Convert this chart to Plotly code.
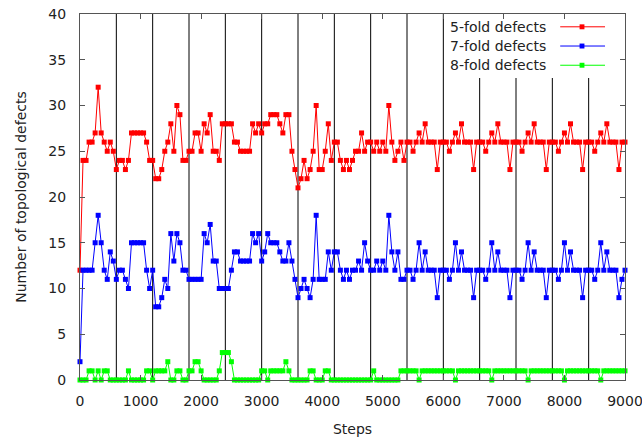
import plotly.graph_objects as go

# ---------------- data ----------------
steps = list(range(0, 9001, 50))

five_fold = [
    12, 24, 24, 26, 26, 27, 32, 27, 26, 25,
    26, 25, 23, 24, 24, 23, 24, 27, 27, 27,
    27, 27, 26, 24, 24, 22, 22, 23, 25, 26,
    28, 25, 30, 29, 24, 24, 25, 25, 27, 27,
    25, 28, 27, 29, 25, 25, 24, 28, 28, 28,
    28, 26, 26, 25, 25, 25, 25, 28, 27, 28,
    27, 28, 28, 29, 29, 29, 28, 27, 29, 29,
    25, 23, 21, 22, 24, 22, 23, 25, 30, 23,
    23, 25, 28, 24, 26, 26, 24, 23, 24, 23,
    24, 25, 25, 27, 25, 26, 26, 25, 26, 25,
    26, 25, 30, 26, 24, 25, 26, 24,
    26, 26, 25, 26, 27, 26, 28, 26, 26, 26, 23, 26,
    26, 26, 25, 26, 27, 26, 28, 26, 26, 26, 23, 26,
    26, 26, 25, 26, 27, 26, 28, 26, 26, 26, 23, 26,
    26, 26, 25, 26, 27, 26, 28, 26, 26, 26, 23, 26,
    26, 26, 25, 26, 27, 26, 28, 26, 26, 26, 23, 26,
    26, 26, 25, 26, 27, 26, 28, 26, 26, 26, 23, 26,
    26,
]

seven_fold = [
    2, 12, 12, 12, 12, 15, 18, 15, 12, 11,
    14, 13, 11, 12, 12, 11, 10, 15, 15, 15,
    15, 15, 12, 10, 12, 8, 8, 9, 11, 10,
    16, 13, 16, 15, 12, 12, 11, 11, 11, 11,
    11, 16, 15, 17, 13, 13, 10, 10, 10, 10,
    12, 14, 14, 13, 13, 13, 13, 16, 15, 16,
    13, 14, 16, 15, 15, 15, 14, 13, 13, 15,
    13, 11, 9, 10, 11, 10, 9, 11, 18, 11,
    11, 11, 14, 12, 14, 14, 12, 11, 12, 11,
    12, 12, 13, 12, 15, 13, 12, 12, 13, 12,
    13, 12, 18, 14, 12, 14, 11, 11,
    12, 12, 11, 12, 15, 12, 14, 12, 12, 12, 9, 12,
    12, 12, 11, 12, 15, 12, 14, 12, 12, 12, 9, 12,
    12, 12, 11, 12, 15, 12, 14, 12, 12, 12, 9, 12,
    12, 12, 11, 12, 15, 12, 14, 12, 12, 12, 9, 12,
    12, 12, 11, 12, 15, 12, 14, 12, 12, 12, 9, 12,
    12, 12, 11, 12, 15, 12, 14, 12, 12, 12, 9, 11,
    12,
]

eight_fold = [
    0, 0, 0, 1, 1, 0, 1, 0, 1, 1,
    0, 0, 0, 0, 0, 0, 1, 0, 0, 0,
    0, 0, 1, 1, 0, 1, 1, 1, 1, 2,
    0, 0, 1, 1, 0, 0, 1, 1, 2, 2,
    1, 0, 0, 0, 0, 0, 1, 3, 3, 3,
    2, 0, 0, 0, 0, 0, 0, 0, 0, 0,
    1, 1, 0, 1, 1, 1, 1, 1, 2, 1,
    0, 0, 0, 0, 0, 0, 1, 1, 0, 0,
    0, 1, 1, 0, 0, 0, 0, 0, 0, 0,
    0, 0, 0, 0, 0, 0, 0, 1, 0, 0,
    0, 0, 0, 0, 0, 0, 1, 1,
    1, 1, 1, 1, 0, 1, 1, 1, 1, 1, 1, 1,
    1, 1, 1, 1, 0, 1, 1, 1, 1, 1, 1, 1,
    1, 1, 1, 1, 0, 1, 1, 1, 1, 1, 1, 1,
    1, 1, 1, 1, 0, 1, 1, 1, 1, 1, 1, 1,
    1, 1, 1, 1, 0, 1, 1, 1, 1, 1, 1, 1,
    1, 1, 1, 1, 0, 1, 1, 1, 1, 1, 1, 1,
    1,
]

series_names = ["5-fold defects", "7-fold defects", "8-fold defects"]
series_colors = ["#ff0000", "#0000ff", "#00ff00"]
boundaries = [600, 1200, 1800, 2400, 3000, 3600, 4200, 4800,
              5400, 6000, 6600, 7200, 7800, 8400]
x_ticks = [0, 1000, 2000, 3000, 4000, 5000, 6000, 7000, 8000, 9000]
y_ticks = [0, 5, 10, 15, 20, 25, 30, 35, 40]

FONT = "DejaVu Sans"

fig = go.Figure()
for name, vals, col in zip(series_names, [five_fold, seven_fold, eight_fold], series_colors):
    fig.add_trace(go.Scatter(
        x=steps, y=vals, mode="lines+markers", name=name,
        line=dict(color=col, width=1),
        marker=dict(color=col, size=5, symbol="square"),
        showlegend=False, cliponaxis=False,
    ))

shapes = []
for b in boundaries:
    shapes.append(dict(type="line", xref="x", yref="y", x0=b, x1=b, y0=0, y1=40,
                       line=dict(color="black", width=1), layer="below"))
# key box (opaque, borderless) like gnuplot
shapes.append(dict(type="rect", xref="x", yref="y", x0=6050, x1=9000, y0=33, y1=40,
                   fillcolor="white", line=dict(width=0), layer="below"))

annotations = []
key_y = [38.6, 36.5, 34.4]
for name, col, yy in zip(series_names, series_colors, key_y):
    annotations.append(dict(x=6070, y=yy, xref="x", yref="y", text=name, showarrow=False,
                            xanchor="left", yanchor="middle",
                            font=dict(family=FONT, size=14, color="#222")))
    shapes.append(dict(type="line", xref="x", yref="y", x0=7930, x1=8670, y0=yy, y1=yy,
                       line=dict(color=col, width=1), layer="above"))
    shapes.append(dict(type="rect", xref="x", yref="y", x0=8250, x1=8330,
                       y0=yy - 0.27, y1=yy + 0.27, fillcolor=col,
                       line=dict(width=0), layer="above"))

axis_common = dict(
    showline=True, linecolor="#555", linewidth=1, mirror="allticks",
    ticks="inside", ticklen=5, tickcolor="#555", tickwidth=1,
    showgrid=False, zeroline=False, ticklabeloverflow="allow", automargin=False,
    tickfont=dict(family=FONT, size=14, color="#222"),
)

fig.update_layout(
    width=642, height=437,
    margin=dict(l=80, r=17, t=14, b=57),
    paper_bgcolor="white", plot_bgcolor="white",
    shapes=shapes, annotations=annotations,
    xaxis=dict(range=[0, 9000], tickvals=x_ticks, ticklabelstandoff=8,
               title=dict(text="Steps", font=dict(family=FONT, size=14, color="#222"), standoff=20),
               **axis_common),
    yaxis=dict(range=[0, 40], tickvals=y_ticks, ticklabelstandoff=10,
               title=dict(text="Number of topological defects",
                          font=dict(family=FONT, size=14, color="#222"), standoff=18),
               **axis_common),
)

fig.write_html("out.html")
